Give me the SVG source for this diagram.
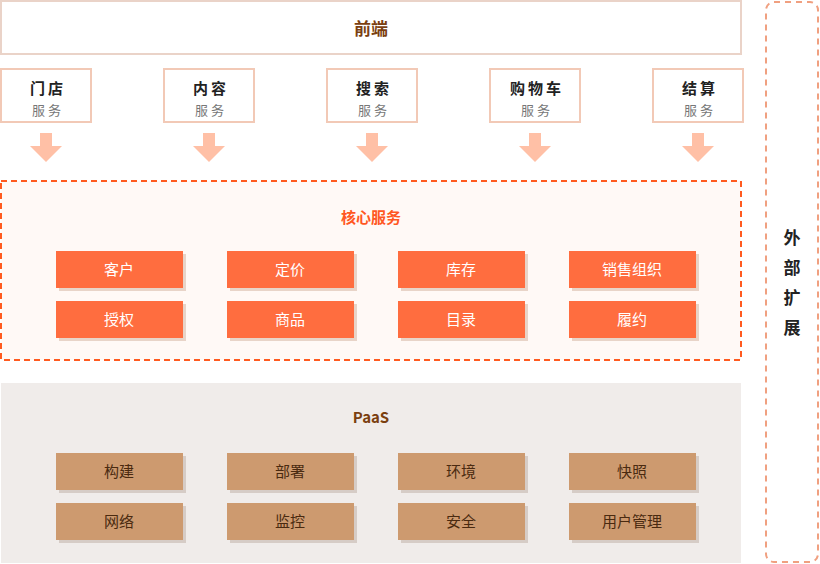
<svg xmlns="http://www.w3.org/2000/svg" width="820" height="564" viewBox="0 0 820 564">
<defs>
<style>
text{font-family:"Noto Sans CJK SC","Noto Sans",sans-serif;text-anchor:middle}
.svc rect{fill:#fff;stroke:#f2c9b6;stroke-width:2}
.svc .t{font-size:15px;font-weight:bold;fill:#222;letter-spacing:3px}
.svc .s{font-size:13px;fill:#777;letter-spacing:3px}
.core .b{fill:#ff6d3f}
.sh{fill:#e8d4c8}
.core text{fill:#fff;font-size:15px}
.paas .b{fill:#cd9a6f}
.paas .sh{fill:#d6ccc6}
.paas text{fill:#4a2a10;font-size:15px}
.arr{fill:#ffc0a6}
</style>
</defs>
<g id="frontend"><rect x="1" y="1" width="740" height="53" fill="#fff" stroke="#ead3c8" stroke-width="2"/><text x="371" y="35" font-size="17" font-weight="bold" fill="#7b3f10">前端</text></g>
<g id="svc-store" class="svc"><rect x="1" y="69" width="90" height="53"/><text class="t" x="48" y="94">门店</text><text class="s" x="48" y="115">服务</text></g>
<g id="svc-content" class="svc"><rect x="164" y="69" width="90" height="53"/><text class="t" x="211" y="94">内容</text><text class="s" x="211" y="115">服务</text></g>
<g id="svc-search" class="svc"><rect x="327" y="69" width="90" height="53"/><text class="t" x="374" y="94">搜索</text><text class="s" x="374" y="115">服务</text></g>
<g id="svc-cart" class="svc"><rect x="490" y="69" width="90" height="53"/><text class="t" x="537" y="94">购物车</text><text class="s" x="537" y="115">服务</text></g>
<g id="svc-checkout" class="svc"><rect x="653" y="69" width="90" height="53"/><text class="t" x="700" y="94">结算</text><text class="s" x="700" y="115">服务</text></g>
<g id="connectors">
<path class="arr" d="M40 133h12v13h10l-16 16l-16-16h10z"/>
<path class="arr" d="M203 133h12v13h10l-16 16l-16-16h10z"/>
<path class="arr" d="M366 133h12v13h10l-16 16l-16-16h10z"/>
<path class="arr" d="M529 133h12v13h10l-16 16l-16-16h10z"/>
<path class="arr" d="M692 133h12v13h10l-16 16l-16-16h10z"/>
</g>
<g id="core" class="core">
<rect x="1" y="181" width="740" height="179" fill="#fff9f6" stroke="#ff5a1f" stroke-width="2" stroke-dasharray="6 4"/>
<text x="371" y="223" font-size="18" font-weight="bold" style="fill:#ff5722">核心服务</text>
<g id="c1"><rect class="sh" x="59" y="254" width="127" height="37"/><rect class="b" x="56" y="251" width="127" height="37"/><text x="119" y="275">客户</text></g>
<g id="c2"><rect class="sh" x="230" y="254" width="127" height="37"/><rect class="b" x="227" y="251" width="127" height="37"/><text x="290" y="275">定价</text></g>
<g id="c3"><rect class="sh" x="401" y="254" width="127" height="37"/><rect class="b" x="398" y="251" width="127" height="37"/><text x="461" y="275">库存</text></g>
<g id="c4"><rect class="sh" x="572" y="254" width="127" height="37"/><rect class="b" x="569" y="251" width="127" height="37"/><text x="632" y="275">销售组织</text></g>
<g id="c5"><rect class="sh" x="59" y="304" width="127" height="37"/><rect class="b" x="56" y="301" width="127" height="37"/><text x="119" y="325">授权</text></g>
<g id="c6"><rect class="sh" x="230" y="304" width="127" height="37"/><rect class="b" x="227" y="301" width="127" height="37"/><text x="290" y="325">商品</text></g>
<g id="c7"><rect class="sh" x="401" y="304" width="127" height="37"/><rect class="b" x="398" y="301" width="127" height="37"/><text x="461" y="325">目录</text></g>
<g id="c8"><rect class="sh" x="572" y="304" width="127" height="37"/><rect class="b" x="569" y="301" width="127" height="37"/><text x="632" y="325">履约</text></g>
</g>
<g id="paas" class="paas">
<rect x="1" y="383" width="740" height="180" fill="#f0ecea"/>
<text x="371" y="423" font-size="18" font-weight="bold" style="fill:#7b3f10">PaaS</text>
<g id="p1"><rect class="sh" x="59" y="456" width="127" height="37"/><rect class="b" x="56" y="453" width="127" height="37"/><text x="119" y="477">构建</text></g>
<g id="p2"><rect class="sh" x="230" y="456" width="127" height="37"/><rect class="b" x="227" y="453" width="127" height="37"/><text x="290" y="477">部署</text></g>
<g id="p3"><rect class="sh" x="401" y="456" width="127" height="37"/><rect class="b" x="398" y="453" width="127" height="37"/><text x="461" y="477">环境</text></g>
<g id="p4"><rect class="sh" x="572" y="456" width="127" height="37"/><rect class="b" x="569" y="453" width="127" height="37"/><text x="632" y="477">快照</text></g>
<g id="p5"><rect class="sh" x="59" y="506" width="127" height="37"/><rect class="b" x="56" y="503" width="127" height="37"/><text x="119" y="527">网络</text></g>
<g id="p6"><rect class="sh" x="230" y="506" width="127" height="37"/><rect class="b" x="227" y="503" width="127" height="37"/><text x="290" y="527">监控</text></g>
<g id="p7"><rect class="sh" x="401" y="506" width="127" height="37"/><rect class="b" x="398" y="503" width="127" height="37"/><text x="461" y="527">安全</text></g>
<g id="p8"><rect class="sh" x="572" y="506" width="127" height="37"/><rect class="b" x="569" y="503" width="127" height="37"/><text x="632" y="527">用户管理</text></g>
</g>
<g id="external">
<rect x="766" y="2" width="52" height="560" rx="8" fill="#fff" stroke="#f0a080" stroke-width="2" stroke-dasharray="6 5"/>
<text x="792" y="244" font-size="17" font-weight="bold" fill="#222">外</text>
<text x="792" y="274" font-size="17" font-weight="bold" fill="#222">部</text>
<text x="792" y="304" font-size="17" font-weight="bold" fill="#222">扩</text>
<text x="792" y="334" font-size="17" font-weight="bold" fill="#222">展</text>
</g>
</svg>
